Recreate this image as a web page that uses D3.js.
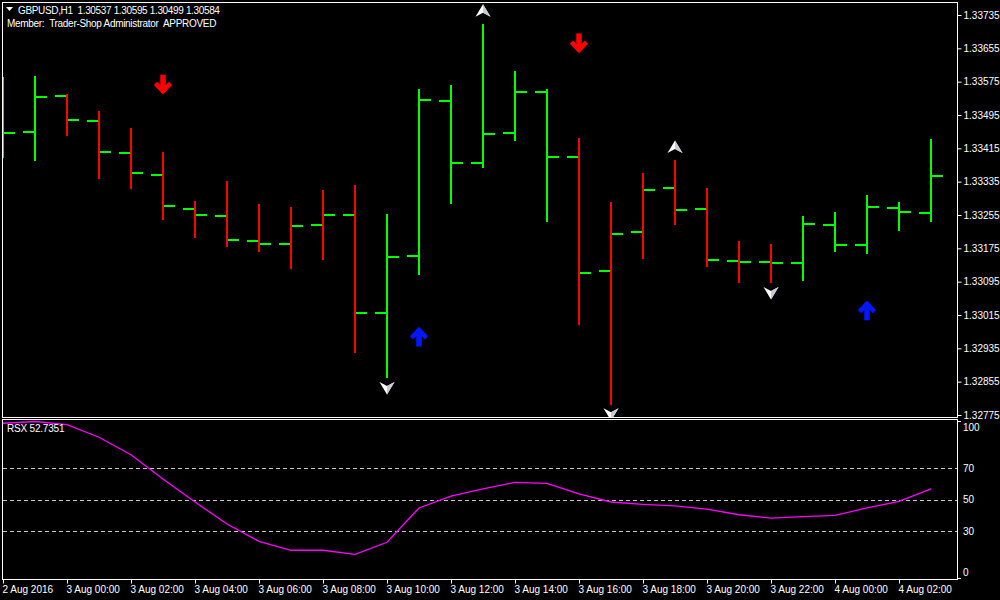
<!DOCTYPE html>
<html><head><meta charset="utf-8">
<script src="https://cdn.jsdelivr.net/npm/d3@7"></script>
<style>
html,body{margin:0;padding:0;background:#000;}
svg{display:block;}
text{font-family:"Liberation Sans",Arial,sans-serif;}
</style>
</head><body>
<svg id="chart" width="1000" height="600"></svg>
<script>
// ---------- DATA ----------
const titleText = "GBPUSD,H1  1.30537 1.30595 1.30499 1.30584";
const memberText = "Member:  Trader-Shop Administrator  APPROVED";
const rsxLabel = "RSX 52.7351";
const firstBarTime = "2016-08-02T22:00:00Z"; // hourly bars
const openP  = [1.33423,1.33455,1.33541,1.33481,1.33405,1.33352,1.33270,1.33253,1.33193,1.33185,1.33232,1.33255,1.33020,1.33157,1.33529,1.33380,1.33453,1.33549,1.33393,1.33121,1.33213,1.33321,1.33270,1.33145,1.33142,1.33140,1.33232,1.33183,1.33273,1.33260];
const highP  = [1.33587,1.33589,1.33545,1.33505,1.33464,1.33406,1.33289,1.33337,1.33281,1.33274,1.33315,1.33327,1.33257,1.33557,1.33567,1.33713,1.33601,1.33557,1.33440,1.33286,1.33356,1.33387,1.33320,1.33193,1.33185,1.33253,1.33262,1.33303,1.33286,1.33437];
const lowP   = [1.33393,1.33385,1.33445,1.33342,1.33317,1.33243,1.33201,1.33179,1.33167,1.33126,1.33148,1.32925,1.32865,1.33111,1.33282,1.33369,1.33433,1.33239,1.32992,1.32799,1.33150,1.33232,1.33131,1.33093,1.33093,1.33097,1.33167,1.33162,1.33217,1.33239];
const closeP = [1.33453,1.33539,1.33483,1.33407,1.33357,1.33277,1.33256,1.33195,1.33185,1.33229,1.33255,1.33020,1.33154,1.33532,1.33380,1.33450,1.33549,1.33395,1.33116,1.33209,1.33316,1.33267,1.33148,1.33142,1.33140,1.33233,1.33183,1.33274,1.33262,1.33349];
const trend  = ["up","up","dn","dn","dn","dn","dn","dn","dn","dn","dn","dn","up","up","up","up","up","up","dn","dn","dn","dn","dn","dn","dn","up","up","up","up","up"];
const rsxValues = [98.7,99.8,97.8,89.8,78.7,63.2,48.6,34.6,23.6,17.9,17.9,15.3,23.0,44.8,52.4,56.9,61.1,60.5,53.7,48.6,47.1,46.2,44.1,40.5,38.4,39.3,40.1,44.8,49.0,56.9];
const rsxLevels = [70,50,30];
const rsxTicks = [100,70,50,30,0];
const priceTicks = [1.33735,1.33655,1.33575,1.33495,1.33415,1.33335,1.33255,1.33175,1.33095,1.33015,1.32935,1.32855,1.32775];
const timeTickDates = ["2016-08-02T22:00:00Z","2016-08-03T00:00:00Z","2016-08-03T02:00:00Z","2016-08-03T04:00:00Z","2016-08-03T06:00:00Z","2016-08-03T08:00:00Z","2016-08-03T10:00:00Z","2016-08-03T12:00:00Z","2016-08-03T14:00:00Z","2016-08-03T16:00:00Z","2016-08-03T18:00:00Z","2016-08-03T20:00:00Z","2016-08-03T22:00:00Z","2016-08-04T00:00:00Z","2016-08-04T02:00:00Z"];
const timeTickLabels = ["2 Aug 2016","3 Aug 00:00","3 Aug 02:00","3 Aug 04:00","3 Aug 06:00","3 Aug 08:00","3 Aug 10:00","3 Aug 12:00","3 Aug 14:00","3 Aug 16:00","3 Aug 18:00","3 Aug 20:00","3 Aug 22:00","4 Aug 00:00","4 Aug 02:00"];
// signals: bar index + price level
const sellArrowBars = [5,18];    const sellArrowPrices = [1.33569,1.33668];
const buyArrowBars  = [13,27];   const buyArrowPrices  = [1.32962,1.33025];
const peakMarkBars  = [15,21];   const peakMarkPrices  = [1.33745,1.33418];
const troughMarkBars = [12,19,24]; const troughMarkPrices = [1.32840,1.32777,1.33068];

// ---------- SCALES ----------
const svg = d3.select("#chart");
svg.append("rect").attr("width",1000).attr("height",600).attr("fill","#000");
const t0 = new Date(firstBarTime);
const times = openP.map((d,i)=>new Date(t0.getTime()+i*3600000));
const x = d3.scaleUtc().domain([times[0], times[times.length-1]]).range([3, 931]);
const y = d3.scaleLinear().domain([1.32775, 1.33735]).range([415, 15]);
const yr = d3.scaleLinear().domain([0,100]).range([578.4, 421.2]);
const UP="#00ff00", DN="#ff0000";

// clip paths
const defs = svg.append("defs");
defs.append("clipPath").attr("id","mainClip").append("rect").attr("x",3).attr("y",3).attr("width",954).attr("height",414);
defs.append("clipPath").attr("id","rsxClip").append("rect").attr("x",3).attr("y",420).attr("width",954).attr("height",159);

// ---------- MAIN PANEL ----------
const main = svg.append("g").attr("clip-path","url(#mainClip)").attr("shape-rendering","crispEdges");
const bars = main.selectAll("g.bar").data(times).join("g").attr("class","bar");
bars.append("rect").attr("x",(d)=>Math.round(x(d))-1).attr("width",2)
  .attr("y",(d,i)=>y(highP[i])).attr("height",(d,i)=>y(lowP[i])-y(highP[i]))
  .attr("fill",(d,i)=>trend[i]==="up"?UP:DN);
bars.append("rect").attr("x",(d)=>Math.round(x(d))-12).attr("width",11)
  .attr("y",(d,i)=>Math.round(y(openP[i]))-1).attr("height",2).attr("fill",UP);
bars.append("rect").attr("x",(d)=>Math.round(x(d))+1).attr("width",11)
  .attr("y",(d,i)=>Math.round(y(closeP[i]))-1).attr("height",2).attr("fill",UP);

const sig = svg.append("g").attr("clip-path","url(#mainClip)");
function thickArrow(g, cx, cy, dir, color){
  const s = dir; // 1 = down, -1 = up
  g.append("line").attr("x1",cx).attr("x2",cx).attr("y1",cy - s*9.5).attr("y2",cy + s*7.5)
    .attr("stroke",color).attr("stroke-width",5.5);
  g.append("path").attr("d",`M${cx-7.5},${cy - s*0.8} L${cx},${cy + s*7} L${cx+7.5},${cy - s*0.8}`)
    .attr("fill","none").attr("stroke",color).attr("stroke-width",4.5).attr("stroke-linejoin","miter");
}
sellArrowBars.forEach((b,k)=>thickArrow(sig, x(times[b]), y(sellArrowPrices[k]), 1, "#ff0000"));
buyArrowBars.forEach((b,k)=>thickArrow(sig, x(times[b]), y(buyArrowPrices[k]), -1, "#0018ff"));
function arrowHead(g, cx, cy, dir){
  const s = dir; // -1 = pointing up, 1 = pointing down
  g.append("path").attr("d",`M${cx},${cy + s*6.5} L${cx+7.5},${cy - s*6} L${cx},${cy - s*2} L${cx-7.5},${cy - s*6} Z`)
    .attr("fill","#ffffff");
  g.append("path").attr("d",`M${cx},${cy + s*6.5} L${cx+7.5},${cy - s*6} L${cx},${cy - s*2} Z`)
    .attr("fill","#c8c8d8");
}
peakMarkBars.forEach((b,k)=>arrowHead(sig, x(times[b]), y(peakMarkPrices[k]), -1));
troughMarkBars.forEach((b,k)=>arrowHead(sig, x(times[b]), y(troughMarkPrices[k]), 1));

// ---------- RSX PANEL ----------
const rsxG = svg.append("g").attr("clip-path","url(#rsxClip)");
rsxG.selectAll("line.lvl").data(rsxLevels).join("line").attr("class","lvl")
  .attr("x1",3).attr("x2",957).attr("y1",d=>Math.round(yr(d))+0.5).attr("y2",d=>Math.round(yr(d))+0.5)
  .attr("stroke","#c8c8c8").attr("stroke-width",1).attr("stroke-dasharray","4,3");
rsxG.append("path").datum(rsxValues)
  .attr("d", d3.line().x((d,i)=>x(times[i])).y(d=>yr(d)))
  .attr("fill","none").attr("stroke","#ff00ff").attr("stroke-width",1.3);
svg.append("text").attr("x",7).attr("y",432).attr("fill","#ffffff").attr("font-size",10)
  .attr("letter-spacing","-0.2").text(rsxLabel);

// ---------- FRAMES ----------
const frame = svg.append("g").attr("fill","none").attr("stroke","#ffffff").attr("stroke-width",1).attr("shape-rendering","crispEdges");
frame.append("rect").attr("x",2.5).attr("y",2.5).attr("width",954.5).attr("height",414.5);
frame.append("rect").attr("x",2.5).attr("y",419.5).attr("width",954.5).attr("height",159.5);

// ---------- AXES ----------
const priceAxis = d3.axisRight(y).tickValues(priceTicks).tickSize(4).tickPadding(2).tickFormat(d3.format(".5f"));
const pa = svg.append("g").attr("transform","translate(957.5,0)").call(priceAxis);
pa.select(".domain").remove();
pa.selectAll(".tick line").attr("stroke","#fff");
pa.selectAll(".tick text").attr("fill","#fff").attr("font-size",10).attr("font-family","Liberation Sans, Arial, sans-serif");

const rsxAxis = svg.append("g");
rsxAxis.selectAll("text").data(rsxTicks).join("text")
  .attr("x",963).attr("y",d=>Math.min(Math.max(yr(d),427),572)+3.5)
  .attr("fill","#fff").attr("font-size",10).text(d=>d);
rsxAxis.selectAll("line").data([100,0]).join("line")
  .attr("x1",957).attr("x2",961).attr("y1",d=>Math.round(yr(d))+0.5).attr("y2",d=>Math.round(yr(d))+0.5)
  .attr("stroke","#fff");

const tickDates = timeTickDates.map(s=>new Date(s));
const timeAxis = d3.axisBottom(x).tickValues(tickDates).tickSize(4).tickPadding(2)
  .tickFormat((d,i)=>timeTickLabels[i]);
const ta = svg.append("g").attr("transform","translate(0,579.5)").call(timeAxis);
ta.select(".domain").remove();
ta.selectAll(".tick line").attr("stroke","#fff");
ta.selectAll(".tick text").attr("fill","#fff").attr("font-size",10).attr("text-anchor","start").attr("dx",-1)
  .attr("font-family","Liberation Sans, Arial, sans-serif");

// ---------- HEADER ----------
svg.append("path").attr("d","M6,7 L13,7 L9.5,11 Z").attr("fill","#fff");
svg.append("text").attr("x",18).attr("y",14).attr("fill","#fff").attr("font-size",10)
  .attr("letter-spacing","-0.35").style("white-space","pre").text(titleText);
svg.append("text").attr("x",7).attr("y",27).attr("fill","#fff").attr("font-size",10)
  .attr("letter-spacing","-0.3").style("white-space","pre").text(memberText);
</script>
</body></html>
